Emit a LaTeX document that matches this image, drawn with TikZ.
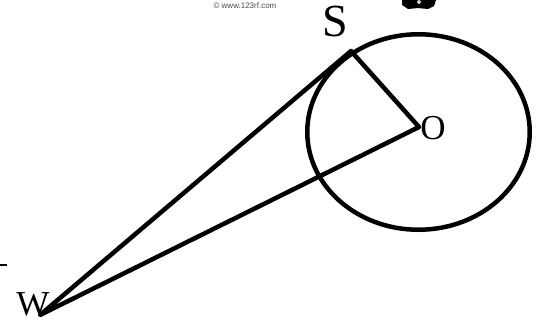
\documentclass[tikz,border=0pt]{standalone}
\usepackage{fontspec}
\setmainfont{Liberation Serif}
\newfontfamily\wmfont{Liberation Sans}
\begin{document}
\begin{tikzpicture}[x=1pt,y=-1pt,
  thick line/.style={line width=4.5pt,line cap=round,line join=round},
  bigS/.style={inner sep=0pt,font=\fontsize{46}{46}\selectfont},
  lbl/.style={inner sep=0pt,font=\fontsize{35}{35}\selectfont},
  wm/.style={inner sep=0pt,font=\wmfont\fontsize{8}{8}\selectfont,text=black!70}]
\useasboundingbox (0,0) rectangle (538,322);
\fill[white] (0,0) rectangle (538,322);
% points
\coordinate (Sp) at (351,51);
\coordinate (Op) at (419,127);
\coordinate (Wp) at (40,315);
\coordinate (C) at (418.5,132);
% circle
\draw[line width=4.5pt] (C) ellipse [x radius=111.25pt, y radius=97.75pt];
% lines
\draw[thick line] (Wp) -- (Sp) -- (Op) -- cycle;
% labels
\node[bigS] (S) at (335,21) {S};
\node[lbl] (O) at (433,128) {O};
\node[lbl] (W) at (33,304) {W};
% watermark
\node[wm] (wmark) at (245,6) {© www.123rf.com};
\fill[black] (402,0) -- (436,0) -- (434,6) -- (428,9) -- (418,8) -- (408,9) -- (402,5) -- cycle;
\fill[black!20] (419,2) ellipse [x radius=2pt, y radius=2pt];
% small dash
\draw[line width=1.5pt] (0,265) -- (7,265);
\end{tikzpicture}
\end{document}
